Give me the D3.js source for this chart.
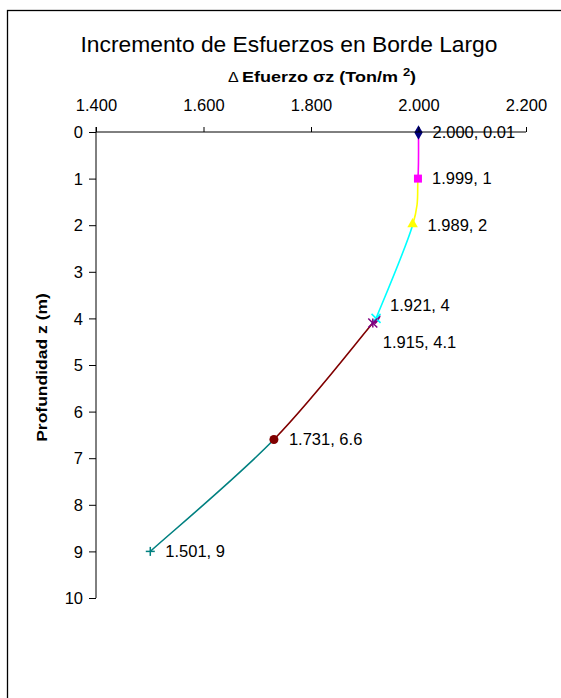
<!DOCTYPE html>
<html>
<head>
<meta charset="utf-8">
<script src="https://cdn.jsdelivr.net/npm/d3@7"></script>
<style>
  html, body { margin: 0; padding: 0; background: #fff; }
  svg { display: block; font-family: "Liberation Sans", Arial, sans-serif; }
</style>
</head>
<body>
<svg id="chart" width="561" height="698"></svg>
<script>
// Stress increase under the long edge, by depth
const esfuerzo = [2.000, 1.999, 1.989, 1.921, 1.915, 1.731, 1.501];
const profundidad = [0.01, 1, 2, 4, 4.1, 6.6, 9];
const etiquetas = ["2.000, 0.01", "1.999, 1", "1.989, 2", "1.921, 4", "1.915, 4.1", "1.731, 6.6", "1.501, 9"];
const xTicks = [1.4, 1.6, 1.8, 2.0, 2.2];
const yTicks = [0, 1, 2, 3, 4, 5, 6, 7, 8, 9, 10];

// Marker shape and colour per point; the segment leading into a point takes its colour
const markerShapes = ["diamond", "square", "triangle", "cross", "star", "circle", "plus"];
const pointColors = ["#000080", "#FF00FF", "#FFFF00", "#00FFFF", "#800080", "#800000", "#008080"];
// Label offsets (px) relative to each point
const labelDx = [14, 14, 15, 14, 10, 15, 15];
const labelDy = [0, 0, 0, -13, 19, 0, 0];

const svg = d3.select("#chart");
const plot = { left: 96, right: 526, top: 132, bottom: 598 };

const x = d3.scaleLinear().domain([1.4, 2.2]).range([plot.left, plot.right]);
const y = d3.scaleLinear().domain([0, 10]).range([plot.top, plot.bottom]);

// Chart frame
svg.append("rect")
  .attr("x", 7.5).attr("y", 10.5)
  .attr("width", 700).attr("height", 800)
  .attr("fill", "none").attr("stroke", "#000").attr("stroke-width", 1.3);

// Title
svg.append("text")
  .attr("x", 289).attr("y", 52)
  .attr("text-anchor", "middle")
  .attr("font-size", 22.8)
  .text("Incremento de Esfuerzos en Borde Largo");

// X axis title (bold, slightly condensed vertically)
const xt = svg.append("text")
  .attr("transform", "translate(322,82) scale(1,0.86)")
  .attr("text-anchor", "middle")
  .attr("font-size", 18)
  .attr("font-weight", "bold");
xt.append("tspan").attr("font-weight", "normal").attr("font-size", 16).text("Δ ");
xt.append("tspan").text("Efuerzo ");
xt.append("tspan").text("σ");
xt.append("tspan").text("z (Ton/m ");
xt.append("tspan").attr("font-size", 13).attr("dy", -7).text("2");
xt.append("tspan").attr("dy", 7).text(")");

// Y axis title
svg.append("text")
  .attr("transform", "translate(47,367.5) rotate(-90) scale(1,0.86)")
  .attr("text-anchor", "middle")
  .attr("font-size", 17.5)
  .attr("font-weight", "bold")
  .text("Profundidad z (m)");

// Top (value) axis
const xAxis = d3.axisTop(x)
  .tickValues(xTicks)
  .tickSize(5)
  .tickPadding(16)
  .tickFormat(d3.format(".3f"));
const gx = svg.append("g")
  .attr("transform", `translate(0,${plot.top})`)
  .call(xAxis);
gx.select(".domain").attr("d", `M${plot.left},0H${plot.right}`);

// Left (depth) axis
const yAxis = d3.axisLeft(y)
  .tickValues(yTicks)
  .tickSize(7)
  .tickPadding(6)
  .tickFormat(d3.format("d"));
const gy = svg.append("g")
  .attr("transform", `translate(${plot.left},0)`)
  .call(yAxis);
gy.select(".domain").attr("d", `M0,${plot.top - 5}V${plot.bottom}`);

[gx, gy].forEach(g => {
  g.selectAll("text").attr("font-size", 16.5).attr("fill", "#000")
    .attr("font-family", "'Liberation Sans', Arial, sans-serif");
  g.selectAll("line").attr("stroke", "#000");
  g.select(".domain").attr("stroke", "#000");
});
gy.selectAll("text").attr("dy", "0.35em");

// Smoothed segments (uniform Catmull-Rom as cubic Béziers), one colour per segment
const pts = esfuerzo.map((v, i) => [x(v), y(profundidad[i])]);
const n = pts.length;
const P = i => pts[Math.max(0, Math.min(n - 1, i))];
const segG = svg.append("g").attr("fill", "none").attr("stroke-width", 1.6);
for (let i = 0; i < n - 1; i++) {
  const p0 = P(i - 1), p1 = P(i), p2 = P(i + 1), p3 = P(i + 2);
  const c1 = [p1[0] + (p2[0] - p0[0]) / 6, p1[1] + (p2[1] - p0[1]) / 6];
  const c2 = [p2[0] - (p3[0] - p1[0]) / 6, p2[1] - (p3[1] - p1[1]) / 6];
  const path = d3.path();
  path.moveTo(p1[0], p1[1]);
  path.bezierCurveTo(c1[0], c1[1], c2[0], c2[1], p2[0], p2[1]);
  segG.append("path").attr("d", path.toString()).attr("stroke", pointColors[i + 1]);
}

// Markers
const symbolFor = {
  diamond: d3.symbolDiamond, square: d3.symbolSquare, triangle: d3.symbolTriangle,
  circle: d3.symbolCircle
};
const mg = svg.append("g");
pts.forEach((p, i) => {
  const shape = markerShapes[i];
  const col = pointColors[i];
  const g = mg.append("g").attr("transform", `translate(${p[0]},${p[1]})`);
  if (shape === "cross" || shape === "star" || shape === "plus") {
    const r = 4.5;
    const segs = [];
    if (shape === "cross" || shape === "star") segs.push([-r, -r, r, r], [-r, r, r, -r]);
    if (shape === "star") segs.push([0, -r, 0, r]);
    if (shape === "plus") segs.push([-r, 0, r, 0], [0, -r, 0, r]);
    segs.forEach(s => g.append("line")
      .attr("x1", s[0]).attr("y1", s[1]).attr("x2", s[2]).attr("y2", s[3])
      .attr("stroke", col).attr("stroke-width", 1.5));
  } else {
    const size = { diamond: 60, square: 64, triangle: 48, circle: 64 }[shape];
    g.append("path")
      .attr("d", d3.symbol().type(symbolFor[shape]).size(size)())
      .attr("transform", shape === "triangle" ? "translate(0,-1)" : null)
      .attr("fill", col);
  }
});

// Data labels
svg.append("g").selectAll("text")
  .data(etiquetas)
  .join("text")
  .attr("x", (d, i) => pts[i][0] + labelDx[i])
  .attr("y", (d, i) => pts[i][1] + labelDy[i])
  .attr("dy", "0.35em")
  .attr("font-size", 16.5)
  .text(d => d);

// The value axis line is drawn over the first label
gx.raise();
</script>
</body>
</html>
